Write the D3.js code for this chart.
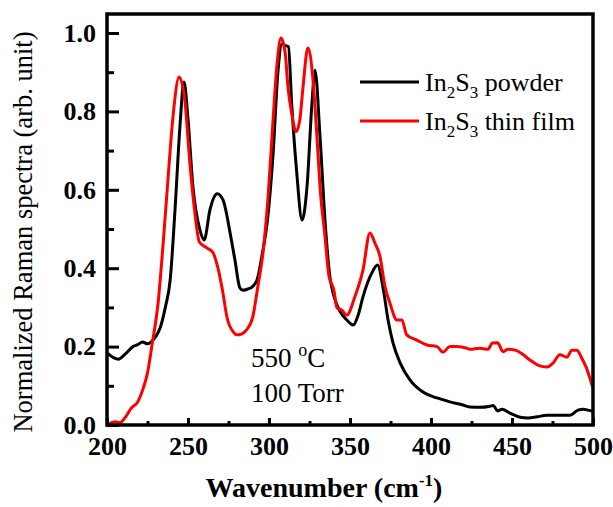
<!DOCTYPE html>
<html>
<head>
<meta charset="utf-8">
<script src="https://cdn.jsdelivr.net/npm/d3@7"></script>
<style>
  html, body { margin: 0; padding: 0; background: #fff; }
  svg { display: block; }
  text { font-family: "Liberation Serif", "Times New Roman", serif; }
</style>
</head>
<body>
<script>
// ---------- data ----------
const powderX = [200,204,207,211,216,219,222,225,228,230,233,236,239,242,245,247.5,250,253,257.4,260,263.6,268,271.6,276,279,282,284,287,289.5,292.6,296,299,302.5,305.6,308,310,312,314,317,320.4,323.5,326.5,328.4,331.5,334.6,337.6,340,343.8,348,352,355,358,363.5,367,370.4,373.5,376.5,381,387,395,403.7,411.7,419.7,424,430,436.4,438.5,441,443.8,448.8,455,460,465.4,471.6,477.8,485.8,490.7,494,497,500];
const powderY = [0.184,0.172,0.168,0.18,0.20,0.205,0.212,0.207,0.215,0.225,0.25,0.30,0.37,0.55,0.76,0.875,0.78,0.61,0.497,0.472,0.55,0.59,0.574,0.49,0.42,0.35,0.344,0.347,0.352,0.37,0.44,0.52,0.69,0.905,0.972,0.968,0.965,0.82,0.65,0.523,0.61,0.82,0.905,0.735,0.52,0.378,0.33,0.29,0.268,0.255,0.28,0.327,0.388,0.408,0.35,0.268,0.21,0.158,0.115,0.084,0.069,0.059,0.051,0.046,0.045,0.048,0.05,0.036,0.04,0.03,0.02,0.018,0.021,0.025,0.025,0.025,0.038,0.04,0.038,0.035];

const filmX = [200,205,208,211,215,219,222,225,228,231.5,234.6,237.7,240.7,244.5,248,251,254,257,261.6,265.4,268.5,271.6,274,278,280,283,286,290,293,296.3,299.4,302.5,305,307.4,310,311.7,314,316.7,319,321,324,327,329.6,331.5,334.6,337,340,342,345,348,353,358,362.3,365.4,368.5,371.6,374.7,379,382,385,391,397.5,403.7,407.4,411.7,416,422,424,430,435,438,441,444.5,447.5,452,457,461,466,471.6,475.3,479.6,483.9,487,490,493,496,499.4,500];
const filmY = [0.0,0.008,0.006,0.018,0.043,0.059,0.089,0.133,0.21,0.31,0.46,0.63,0.785,0.888,0.83,0.676,0.55,0.467,0.452,0.44,0.40,0.336,0.276,0.237,0.23,0.232,0.242,0.276,0.35,0.44,0.58,0.778,0.923,0.987,0.949,0.862,0.795,0.748,0.778,0.862,0.962,0.888,0.735,0.607,0.48,0.38,0.345,0.298,0.293,0.28,0.327,0.395,0.49,0.464,0.43,0.353,0.31,0.268,0.268,0.23,0.217,0.204,0.2,0.186,0.2,0.2,0.196,0.193,0.196,0.193,0.209,0.21,0.187,0.193,0.191,0.179,0.166,0.153,0.148,0.158,0.179,0.173,0.191,0.191,0.171,0.145,0.102,0.095];

const xTicks = [200,250,300,350,400,450,500];
const xMinor = [225,275,325,375,425,475];
const yTicks = [0.0,0.2,0.4,0.6,0.8,1.0];
const yMinor = [0.1,0.3,0.5,0.7,0.9];
const seriesNames = ["powder","thin film"];
const seriesColors = ["#000000","#ff0000"];

// ---------- layout ----------
const W = 613, H = 507;
const L = 107, R = 593, T = 14, B = 425;
const SERIF = '"Liberation Serif", "Times New Roman", serif';

const svg = d3.select("body").append("svg").attr("width", W).attr("height", H)
  .attr("font-family", SERIF);

const x = d3.scaleLinear().domain([200, 500]).range([L, R]);
const y = d3.scaleLinear().domain([0, 1.05]).range([B, B - 1.05 * 392]);

svg.append("clipPath").attr("id", "clip")
  .append("rect").attr("x", L).attr("y", T).attr("width", R - L).attr("height", B - T);

const line = d3.line().x(d => x(d[0])).y(d => y(d[1])).curve(d3.curveMonotoneX);

const gLines = svg.append("g").attr("clip-path", "url(#clip)");
gLines.append("path")
  .datum(powderX.map((v, i) => [v, powderY[i]]))
  .attr("d", line).attr("fill", "none").attr("stroke", seriesColors[0]).attr("stroke-width", 3)
  .attr("stroke-linejoin", "round");
gLines.append("path")
  .datum(filmX.map((v, i) => [v, filmY[i]]))
  .attr("d", line).attr("fill", "none").attr("stroke", seriesColors[1]).attr("stroke-width", 3)
  .attr("stroke-linejoin", "round");

const xAxis = d3.axisBottom(x).tickValues(xTicks).tickSize(-7).tickFormat(d3.format("d")).tickPadding(12);
const xAxisMinor = d3.axisBottom(x).tickValues(xMinor).tickSize(-4).tickFormat("");
const yAxis = d3.axisLeft(y).tickValues(yTicks).tickSize(-12).tickFormat(d3.format(".1f")).tickPadding(11);
const yAxisMinor = d3.axisLeft(y).tickValues(yMinor).tickSize(-7).tickFormat("");

function styleAxis(g) {
  g.attr("font-family", SERIF).attr("font-size", 26).attr("font-weight", "bold");
  g.select(".domain").remove();
  g.selectAll(".tick line").attr("stroke", "#000").attr("stroke-width", 3);
  g.selectAll(".tick text").attr("fill", "#000")
    .attr("font-family", SERIF)
    .style("font-family", SERIF)
    .style("font-weight", "bold").style("font-size", "26px");
}

svg.append("g").attr("transform", `translate(0,${B})`).call(xAxisMinor).call(styleAxis);
svg.append("g").attr("transform", `translate(0,${B})`).call(xAxis).call(styleAxis);
svg.append("g").attr("transform", `translate(${L},0)`).call(yAxisMinor).call(styleAxis);
svg.append("g").attr("transform", `translate(${L},0)`).call(yAxis).call(styleAxis);

svg.append("rect").attr("x", L).attr("y", T).attr("width", R - L).attr("height", B - T)
  .attr("fill", "none").attr("stroke", "#000").attr("stroke-width", 3.5);

const xt = svg.append("text").attr("x", (L + R) / 2 - 26).attr("y", 497)
  .attr("text-anchor", "middle").attr("font-size", 28).attr("font-weight", "bold");
xt.append("tspan").text("Wavenumber (cm");
xt.append("tspan").attr("font-size", 17).attr("dy", -11).text("-1");
xt.append("tspan").attr("dy", 11).text(")");

svg.append("text")
  .attr("transform", `translate(32,${232}) rotate(-90)`)
  .attr("text-anchor", "middle").attr("font-size", 26.5)
  .text("Normalized Raman spectra (arb. unit)");

const legendRows = [82, 121];
seriesNames.forEach((name, i) => {
  const yy = legendRows[i];
  svg.append("line").attr("x1", 360).attr("x2", 419).attr("y1", yy).attr("y2", yy)
    .attr("stroke", seriesColors[i]).attr("stroke-width", 3);
  const t = svg.append("text").attr("x", 425).attr("y", yy + 9).attr("font-size", 26);
  t.append("tspan").text("In");
  t.append("tspan").attr("font-size", 17).attr("dy", 7).text("2");
  t.append("tspan").attr("dy", -7).text("S");
  t.append("tspan").attr("font-size", 17).attr("dy", 7).text("3");
  t.append("tspan").attr("dy", -7).text(" " + name);
});

const a1 = svg.append("text").attr("x", 251).attr("y", 367).attr("font-size", 27);
a1.append("tspan").text("550 ");
a1.append("tspan").attr("font-size", 18).attr("dy", -11).text("o");
a1.append("tspan").attr("dy", 11).text("C");
svg.append("text").attr("x", 251).attr("y", 402).attr("font-size", 27).text("100 Torr");
</script>
</body>
</html>
